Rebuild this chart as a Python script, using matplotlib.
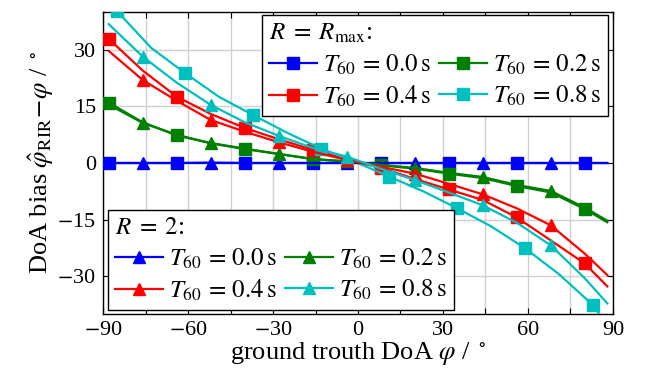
import numpy as np
import matplotlib.pyplot as plt

plt.rcParams['font.family'] = ['Liberation Serif', 'DejaVu Serif']
plt.rcParams['mathtext.fontset'] = 'stix'
plt.rcParams['font.size'] = 16

# ground truth DoA grid (deg)
doa = [-88, -76, -64, -52, -40, -28, -16, -4, 8, 20, 32, 44, 56, 68, 80, 88]
# cyan R=Rmax curve sampled on a shifted grid
doa_c = [-88, -85, -73, -61, -49, -37, -25, -13, -1, 11, 23, 35, 47, 59, 71, 83, 88]

# R = Rmax (squares)
rmax_00 = [0, 0, 0, 0, 0, 0, 0, 0, 0, 0, 0, 0, 0, 0, 0, 0]
rmax_02 = [16.0, 10.8, 7.3, 5.3, 3.8, 2.4, 1.1, 0.3, -0.6, -1.5, -2.8, -4.0, -6.1, -7.8, -12.2, -15.7]
rmax_04 = [32.9, 24.5, 17.6, 13.0, 9.3, 6.3, 3.5, 1.0, -1.3, -4.2, -7.0, -9.8, -14.4, -20.5, -26.6, -32.7]
rmax_08 = [43.0, 40.2, 30.5, 23.8, 17.5, 12.7, 8.0, 3.8, 0.3, -3.6, -7.5, -12.0, -16.8, -22.6, -29.5, -37.7, -43.0]

# R = 2 (triangles)
r2_00 = [0, 0, 0, 0.1, 0, 0, 0, 0, 0, 0, 0, 0, 0, 0, 0, 0]
r2_02 = [15.5, 10.6, 7.5, 5.2, 3.7, 2.4, 1.0, 0.5, -0.5, -1.3, -2.6, -3.7, -5.8, -7.4, -11.8, -15.3]
r2_04 = [29.7, 22.0, 16.5, 11.4, 8.3, 5.5, 3.0, 0.8, -1.0, -2.8, -5.5, -8.3, -12.0, -16.5, -24.0, -29.7]
r2_08 = [36.8, 28.2, 21.3, 15.4, 10.8, 7.2, 4.0, 1.7, -1.5, -4.5, -7.8, -11.2, -15.8, -21.8, -30.5, -37.2]

t60_labels = ['0.0', '0.2', '0.4', '0.8']
colors = ['#0000ff', '#008000', '#ff0000', '#00bfbf']

fig, ax = plt.subplots(figsize=(6.54, 3.76), dpi=100)
fig.subplots_adjust(left=0.1575, right=0.9373, bottom=0.165, top=0.968)

sq_marks = list(range(0, 15, 2))
tri_marks = list(range(1, 15, 2))


def t60(lab):
    return r'$T_{60}\,=\,%s\,\mathrm{s}$' % lab


h_sq = []
for y, c, lab in zip([rmax_00, rmax_02, rmax_04], colors[:3], t60_labels[:3]):
    h, = ax.plot(doa, y, color=c, lw=1.6, marker='s', ms=9, markevery=sq_marks,
                 label=t60(lab), zorder=3)
    h_sq.append(h)
h, = ax.plot(doa_c, rmax_08, color=colors[3], lw=1.6, marker='s', ms=9,
             markevery=list(range(1, 16, 2)), label=t60('0.8'), zorder=3)
h_sq.append(h)

h_tri = []
for y, c, lab in zip([r2_00, r2_02, r2_04, r2_08], colors, t60_labels):
    h, = ax.plot(doa, y, color=c, lw=1.6, marker='^', ms=9, markevery=tri_marks,
                 label=t60(lab), zorder=3)
    h_tri.append(h)

ax.set_xlim(-90, 90)
ax.set_ylim(-40, 40)
ax.set_xticks(np.arange(-90, 91, 30))
ax.set_xticks(np.arange(-75, 90, 30), minor=True)
ax.set_yticks(np.arange(-30, 31, 15))
ax.set_xticklabels([r'$-$%d' % abs(v) if v < 0 else '%d' % v for v in range(-90, 91, 30)])
ax.set_yticklabels([r'$-$%d' % abs(v) if v < 0 else '%d' % v for v in range(-30, 31, 15)])
ax.tick_params(which='both', direction='in', top=True, right=True, length=4, width=0.8, pad=5)
ax.grid(True, which='both', color='#d0d0d0', lw=1.0)
ax.set_axisbelow(True)
for s in ax.spines.values():
    s.set_linewidth(1.0)

ax.set_xlabel(r'ground trouth DoA $\varphi$ / $^\circ$', fontsize=19, labelpad=0)
ax.set_ylabel(r'DoA bias $\hat{\varphi}_{\mathrm{RIR}}\!-\!\varphi$ / $^\circ$', fontsize=19, labelpad=1)

order = [0, 2, 1, 3]
leg_kw = dict(ncol=2, fancybox=False, framealpha=1, edgecolor='black',
              handlelength=1.9, handletextpad=0.25, columnspacing=0.35,
              labelspacing=0.28, borderpad=0.28, borderaxespad=0,
              alignment='left', fontsize=18, title_fontsize=18)
leg1 = ax.legend([h_sq[i] for i in order], [h_sq[i].get_label() for i in order],
                 loc='upper right', bbox_to_anchor=(0.99, 0.99),
                 title=r'$R\;=\;R_{\mathrm{max}}$:', **leg_kw)
leg1.get_frame().set_linewidth(1.0)
ax.add_artist(leg1)
leg2 = ax.legend([h_tri[i] for i in order], [h_tri[i].get_label() for i in order],
                 loc='lower left', bbox_to_anchor=(0.01, 0.013),
                 title=r'$R\;=\;2$:', **leg_kw)
leg2.get_frame().set_linewidth(1.0)
for lg in (leg1, leg2):
    lg.set_zorder(5)

fig.savefig('out.png', dpi=100)
